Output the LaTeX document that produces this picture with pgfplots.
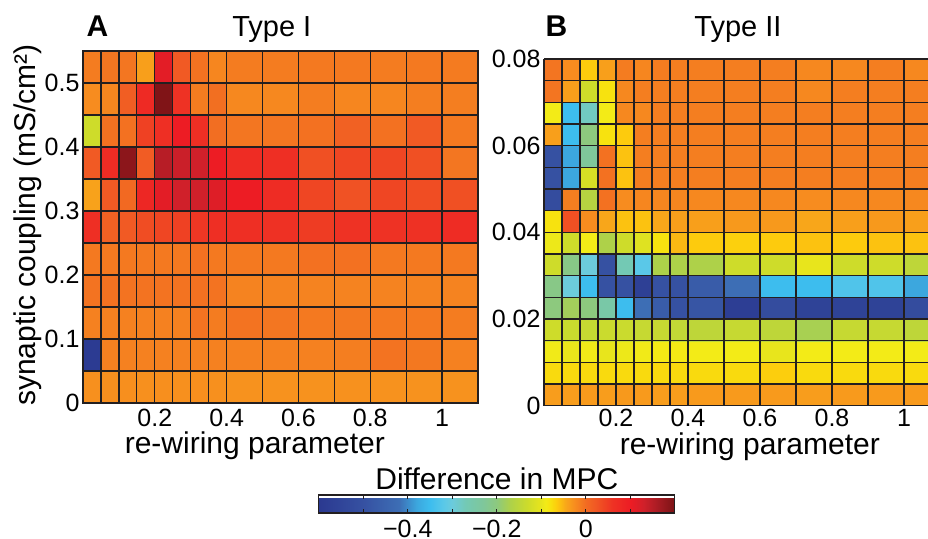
\documentclass[border=0pt]{standalone}
\usepackage{fontspec}
\setmainfont{Liberation Sans}
\usepackage{pgfplots}
\pgfplotsset{compat=1.18}

\definecolor{gridline}{HTML}{231F20}

\pgfplotsset{
  colormap={mpc}{
    rgb255(0pt)=(43,57,144); rgb255(100pt)=(54,81,162); rgb255(180pt)=(61,110,181);
    rgb255(220pt)=(60,167,222); rgb255(250pt)=(61,189,238); rgb255(280pt)=(90,200,232);
    rgb255(300pt)=(108,203,220); rgb255(330pt)=(115,201,180); rgb255(370pt)=(127,199,154);
    rgb255(400pt)=(141,201,126); rgb255(430pt)=(174,209,73); rgb255(470pt)=(206,220,42);
    rgb255(500pt)=(232,229,28); rgb255(510pt)=(243,235,23); rgb255(520pt)=(247,226,15);
    rgb255(535pt)=(253,203,13); rgb255(555pt)=(248,166,26); rgb255(575pt)=(247,140,31);
    rgb255(588pt)=(244,124,32); rgb255(600pt)=(242,107,34); rgb255(620pt)=(241,90,36);
    rgb255(640pt)=(239,70,35); rgb255(660pt)=(238,50,36); rgb255(700pt)=(237,28,36);
    rgb255(730pt)=(208,32,42); rgb255(760pt)=(170,28,36); rgb255(800pt)=(122,19,21)
  },
  heat/.style={
    scale only axis,
    point meta min=-0.6, point meta max=0.2,
    axis on top,
    grid=both,
    major grid style={gridline, line width=1.25pt},
    minor grid style={gridline, line width=1.25pt},
    axis line style={gridline, line width=1.3pt},
    major tick length=0pt, minor tick length=0pt,
    tick label style={font=\fontsize{25}{30}\selectfont},
    xticklabel style={anchor=base, inner sep=0pt},
    /pgf/number format/assume math mode=true,
    label style={font=\fontsize{30}{36}\selectfont, inner sep=0pt},
    every axis title shift=0pt,
    title style={font=\fontsize{29}{34}\selectfont},
    xmin=0,
    xtick={0.2,0.4,0.6,0.8,1},
    minor xtick={0.05,0.1,0.15,0.25,0.3,0.35,0.5,0.7,0.9},
    xlabel={re-wiring parameter},
  },
  cells/.style={surf, shader=flat corner, point meta=explicit, mesh/cols=16},
}

\begin{document}
\begin{tikzpicture}
\useasboundingbox (0,0) rectangle (928pt,-538pt);

% panel A: Type I
\begin{axis}[heat,
  at={(83pt,-403pt)}, anchor=south west, width=395pt, height=352pt,
  xmax=1.1, ymin=0, ymax=0.55,
  ytick={0,0.1,0.2,0.3,0.4,0.5},
  minor ytick={0.05,0.15,0.25,0.35,0.45},
  xticklabel style={yshift=-23.5pt},
  ylabel={synaptic coupling (mS/cm²)},
  ylabel style={at={(-0.1215,0.506)}, anchor=base},
  xlabel style={at={(0.435,-0.143)}, anchor=base},
  title={Type I}, title style={at={(0.478,1.040)}, anchor=base},
  extra description/.code={
    \node[anchor=base west, font=\fontsize{30}{36}\selectfont\bfseries] at (0,1.040) {A};},
  colorbar horizontal,
  colorbar style={
    scale only axis,
    at={(0.597,-0.261)}, anchor=north west,
    width=356pt, height=18pt,
    xtick={-0.4,-0.2,0}, xticklabels={−0.4,−0.2,0},
    minor xtick={-0.5,-0.3,-0.1,0.1},
    tick align=inside,
    major tick length=4pt, minor tick length=4pt,
    tick style={gridline, line width=0.9pt},
    axis line style={gridline, line width=1.3pt},
    xticklabel style={font=\fontsize{25}{30}\selectfont, yshift=-4pt},
    every axis title shift=0pt,
    title={Difference in MPC},
    title style={at={(0.5,1)}, anchor=base, yshift=5pt, font=\fontsize{30}{36}\selectfont},
  },
]
\addplot[cells] coordinates {
(0,0)[-0.028] (0.05,0)[-0.027] (0.1,0)[-0.027] (0.15,0)[-0.028] (0.2,0)[-0.027] (0.25,0)[-0.028] (0.3,0)[-0.027] (0.35,0)[-0.028] (0.4,0)[-0.03] (0.5,0)[-0.03] (0.6,0)[-0.03] (0.7,0)[-0.029] (0.8,0)[-0.03] (0.9,0)[-0.03] (1,0)[-0.03] (1.1,0)[0]
(0,0.05)[-0.59] (0.05,0.05)[-0.016] (0.1,0.05)[-0.016] (0.15,0.05)[-0.016] (0.2,0.05)[-0.016] (0.25,0.05)[-0.016] (0.3,0.05)[-0.016] (0.35,0.05)[-0.016] (0.4,0.05)[-0.016] (0.5,0.05)[-0.016] (0.6,0.05)[-0.016] (0.7,0.05)[-0.014] (0.8,0.05)[-0.006] (0.9,0.05)[-0.009] (1,0.05)[-0.016] (1.1,0.05)[0]
(0,0.1)[-0.016] (0.05,0.1)[-0.016] (0.1,0.1)[-0.016] (0.15,0.1)[-0.016] (0.2,0.1)[-0.016] (0.25,0.1)[-0.016] (0.3,0.1)[-0.006] (0.35,0.1)[-0.012] (0.4,0.1)[-0.006] (0.5,0.1)[-0.008] (0.6,0.1)[-0.01] (0.7,0.1)[-0.009] (0.8,0.1)[-0.01] (0.9,0.1)[-0.01] (1,0.1)[-0.012] (1.1,0.1)[0]
(0,0.15)[-0.006] (0.05,0.15)[-0.005] (0.1,0.15)[-0.006] (0.15,0.15)[-0.006] (0.2,0.15)[-0.006] (0.25,0.15)[-0.006] (0.3,0.15)[-0.004] (0.35,0.15)[-0.006] (0.4,0.15)[-0.018] (0.5,0.15)[-0.018] (0.6,0.15)[-0.018] (0.7,0.15)[-0.018] (0.8,0.15)[-0.018] (0.9,0.15)[-0.018] (1,0.15)[-0.018] (1.1,0.15)[0]
(0,0.2)[-0.01] (0.05,0.2)[-0.01] (0.1,0.2)[-0.01] (0.15,0.2)[-0.01] (0.2,0.2)[-0.01] (0.25,0.2)[-0.01] (0.3,0.2)[-0.004] (0.35,0.2)[-0.01] (0.4,0.2)[-0.01] (0.5,0.2)[-0.01] (0.6,0.2)[-0.004] (0.7,0.2)[-0.004] (0.8,0.2)[-0.01] (0.9,0.2)[-0.01] (1,0.2)[-0.01] (1.1,0.2)[0]
(0,0.25)[0.065] (0.05,0.25)[0.012] (0.1,0.25)[0.02] (0.15,0.25)[0.033] (0.2,0.25)[0.04] (0.25,0.25)[0.045] (0.3,0.25)[0.055] (0.35,0.25)[0.065] (0.4,0.25)[0.065] (0.5,0.25)[0.062] (0.6,0.25)[0.05] (0.7,0.25)[0.06] (0.8,0.25)[0.06] (0.9,0.25)[0.062] (1,0.25)[0.07] (1.1,0.25)[0]
(0,0.3)[-0.042] (0.05,0.3)[0.02] (0.1,0.3)[0.002] (0.15,0.3)[0.08] (0.2,0.3)[0.11] (0.25,0.3)[0.13] (0.3,0.3)[0.13] (0.35,0.3)[0.115] (0.4,0.3)[0.1] (0.5,0.3)[0.07] (0.6,0.3)[0.04] (0.7,0.3)[0.028] (0.8,0.3)[0.04] (0.9,0.3)[0.033] (1,0.3)[0.03] (1.1,0.3)[0]
(0,0.35)[0.02] (0.05,0.35)[0.07] (0.1,0.35)[0.185] (0.15,0.35)[0.018] (0.2,0.35)[0.15] (0.25,0.35)[0.135] (0.3,0.35)[0.13] (0.35,0.35)[0.1] (0.4,0.35)[0.07] (0.5,0.35)[0.065] (0.6,0.35)[0.03] (0.7,0.35)[0.04] (0.8,0.35)[0.04] (0.9,0.35)[0.03] (1,0.35)[-0.008] (1.1,0.35)[0]
(0,0.4)[-0.13] (0.05,0.4)[-0.004] (0.1,0.4)[-0.004] (0.15,0.4)[0.045] (0.2,0.4)[0.065] (0.25,0.4)[0.1] (0.3,0.4)[0.065] (0.35,0.4)[-0.002] (0.4,0.4)[-0.008] (0.5,0.4)[-0.008] (0.6,0.4)[-0.004] (0.7,0.4)[0.012] (0.8,0.4)[-0.004] (0.9,0.4)[0.02] (1,0.4)[-0.01] (1.1,0.4)[0]
(0,0.45)[-0.025] (0.05,0.45)[-0.02] (0.1,0.45)[0.015] (0.15,0.45)[0.075] (0.2,0.45)[0.195] (0.25,0.45)[0.06] (0.3,0.45)[-0.012] (0.35,0.45)[-0.003] (0.4,0.45)[-0.022] (0.5,0.45)[-0.022] (0.6,0.45)[-0.013] (0.7,0.45)[-0.02] (0.8,0.45)[-0.02] (0.9,0.45)[-0.014] (1,0.45)[-0.014] (1.1,0.45)[0]
(0,0.5)[-0.012] (0.05,0.5)[-0.008] (0.1,0.5)[-0.008] (0.15,0.5)[-0.04] (0.2,0.5)[0.11] (0.25,0.5)[0.02] (0.3,0.5)[-0.005] (0.35,0.5)[-0.02] (0.4,0.5)[-0.012] (0.5,0.5)[-0.012] (0.6,0.5)[-0.01] (0.7,0.5)[-0.01] (0.8,0.5)[-0.012] (0.9,0.5)[-0.01] (1,0.5)[-0.011] (1.1,0.5)[0]
(0,0.55)[0] (0.05,0.55)[0] (0.1,0.55)[0] (0.15,0.55)[0] (0.2,0.55)[0] (0.25,0.55)[0] (0.3,0.55)[0] (0.35,0.55)[0] (0.4,0.55)[0] (0.5,0.55)[0] (0.6,0.55)[0] (0.7,0.55)[0] (0.8,0.55)[0] (0.9,0.55)[0] (1,0.55)[0] (1.1,0.55)[0]
};
\end{axis}

% panel B: Type II (right edge cropped in the original)
\begin{axis}[heat,
  at={(544pt,-405.7pt)}, anchor=south west, width=384pt, height=346.7pt,
  xmax=1.0667, ymin=0, ymax=0.08,
  axis x line*=box, axis y line*=left,
  ytick={0,0.02,0.04,0.06,0.08},
  minor ytick={0.005,0.01,0.015,0.025,0.03,0.035,0.045,0.05,0.055,0.065,0.07,0.075},
  scaled y ticks=false,
  yticklabel style={/pgf/number format/fixed, /pgf/number format/precision=2},
  xticklabel style={yshift=-21pt},
  xlabel style={at={(0.536,-0.141)}, anchor=base},
  title={Type II}, title style={at={(0.505,1.0635)}, anchor=base},
  extra description/.code={
    \node[anchor=base west, font=\fontsize{30}{36}\selectfont\bfseries] at (-0.005,1.0635) {B};},
]
\addplot[cells] coordinates {
(0,0)[-0.038] (0.05,0)[-0.038] (0.1,0)[-0.036] (0.15,0)[-0.038] (0.2,0)[-0.035] (0.25,0)[-0.036] (0.3,0)[-0.038] (0.35,0)[-0.038] (0.4,0)[-0.036] (0.5,0)[-0.036] (0.6,0)[-0.036] (0.7,0)[-0.038] (0.8,0)[-0.036] (0.9,0)[-0.036] (1,0)[-0.036] (1.1,0)[0]
(0,0.005)[-0.075] (0.05,0.005)[-0.075] (0.1,0.005)[-0.075] (0.15,0.005)[-0.075] (0.2,0.005)[-0.075] (0.25,0.005)[-0.075] (0.3,0.005)[-0.075] (0.35,0.005)[-0.075] (0.4,0.005)[-0.075] (0.5,0.005)[-0.075] (0.6,0.005)[-0.067] (0.7,0.005)[-0.075] (0.8,0.005)[-0.075] (0.9,0.005)[-0.075] (1,0.005)[-0.075] (1.1,0.005)[0]
(0,0.01)[-0.092] (0.05,0.01)[-0.098] (0.1,0.01)[-0.092] (0.15,0.01)[-0.1] (0.2,0.01)[-0.095] (0.25,0.01)[-0.092] (0.3,0.01)[-0.088] (0.35,0.01)[-0.088] (0.4,0.01)[-0.09] (0.5,0.01)[-0.09] (0.6,0.01)[-0.1] (0.7,0.01)[-0.09] (0.8,0.01)[-0.09] (0.9,0.01)[-0.09] (1,0.01)[-0.09] (1.1,0.01)[0]
(0,0.015)[-0.13] (0.05,0.015)[-0.135] (0.1,0.015)[-0.14] (0.15,0.015)[-0.135] (0.2,0.015)[-0.135] (0.25,0.015)[-0.14] (0.3,0.015)[-0.14] (0.35,0.015)[-0.145] (0.4,0.015)[-0.15] (0.5,0.015)[-0.14] (0.6,0.015)[-0.15] (0.7,0.015)[-0.175] (0.8,0.015)[-0.14] (0.9,0.015)[-0.14] (1,0.015)[-0.15] (1.1,0.015)[0]
(0,0.02)[-0.2] (0.05,0.02)[-0.18] (0.1,0.02)[-0.2] (0.15,0.02)[-0.25] (0.2,0.02)[-0.35] (0.25,0.02)[-0.42] (0.3,0.02)[-0.47] (0.35,0.02)[-0.5] (0.4,0.02)[-0.49] (0.5,0.02)[-0.58] (0.6,0.02)[-0.52] (0.7,0.02)[-0.56] (0.8,0.02)[-0.56] (0.9,0.02)[-0.56] (1,0.02)[-0.52] (1.1,0.02)[0]
(0,0.025)[-0.21] (0.05,0.025)[-0.3] (0.1,0.025)[-0.35] (0.15,0.025)[-0.5] (0.2,0.025)[-0.5] (0.25,0.025)[-0.57] (0.3,0.025)[-0.5] (0.35,0.025)[-0.5] (0.4,0.025)[-0.47] (0.5,0.025)[-0.42] (0.6,0.025)[-0.35] (0.7,0.025)[-0.35] (0.8,0.025)[-0.33] (0.9,0.025)[-0.33] (1,0.025)[-0.38] (1.1,0.025)[0]
(0,0.03)[-0.13] (0.05,0.03)[-0.21] (0.1,0.03)[-0.3] (0.15,0.03)[-0.5] (0.2,0.03)[-0.27] (0.25,0.03)[-0.32] (0.3,0.03)[-0.17] (0.35,0.03)[-0.17] (0.4,0.03)[-0.17] (0.5,0.03)[-0.13] (0.6,0.03)[-0.13] (0.7,0.03)[-0.1] (0.8,0.03)[-0.13] (0.9,0.03)[-0.13] (1,0.03)[-0.15] (1.1,0.03)[0]
(0,0.035)[-0.095] (0.05,0.035)[-0.13] (0.1,0.035)[-0.09] (0.15,0.035)[-0.17] (0.2,0.035)[-0.13] (0.25,0.035)[-0.11] (0.3,0.035)[-0.08] (0.35,0.035)[-0.055] (0.4,0.035)[-0.065] (0.5,0.035)[-0.068] (0.6,0.035)[-0.065] (0.7,0.035)[-0.06] (0.8,0.035)[-0.065] (0.9,0.035)[-0.06] (1,0.035)[-0.06] (1.1,0.035)[0]
(0,0.04)[-0.08] (0.05,0.04)[0.03] (0.1,0.04)[-0.025] (0.15,0.04)[-0.045] (0.2,0.04)[-0.06] (0.25,0.04)[-0.06] (0.3,0.04)[-0.045] (0.35,0.04)[-0.04] (0.4,0.04)[-0.04] (0.5,0.04)[-0.035] (0.6,0.04)[-0.035] (0.7,0.04)[-0.045] (0.8,0.04)[-0.04] (0.9,0.04)[-0.035] (1,0.04)[-0.04] (1.1,0.04)[0]
(0,0.045)[-0.52] (0.05,0.045)[-0.014] (0.1,0.045)[-0.16] (0.15,0.045)[-0.004] (0.2,0.045)[-0.025] (0.25,0.045)[-0.02] (0.3,0.045)[-0.02] (0.35,0.045)[-0.02] (0.4,0.045)[-0.022] (0.5,0.045)[-0.022] (0.6,0.045)[-0.022] (0.7,0.045)[-0.025] (0.8,0.045)[-0.022] (0.9,0.045)[-0.022] (1,0.045)[-0.022] (1.1,0.045)[0]
(0,0.05)[-0.5] (0.05,0.05)[-0.38] (0.1,0.05)[-0.12] (0.15,0.05)[-0.004] (0.2,0.05)[-0.06] (0.25,0.05)[-0.014] (0.3,0.05)[-0.014] (0.35,0.05)[-0.014] (0.4,0.05)[-0.014] (0.5,0.05)[-0.014] (0.6,0.05)[-0.014] (0.7,0.05)[-0.014] (0.8,0.05)[-0.014] (0.9,0.05)[-0.014] (1,0.05)[-0.014] (1.1,0.05)[0]
(0,0.055)[-0.5] (0.05,0.055)[-0.38] (0.1,0.055)[-0.23] (0.15,0.055)[-0.004] (0.2,0.055)[-0.06] (0.25,0.055)[-0.014] (0.3,0.055)[-0.014] (0.35,0.055)[-0.014] (0.4,0.055)[-0.014] (0.5,0.055)[-0.014] (0.6,0.055)[-0.014] (0.7,0.055)[-0.014] (0.8,0.055)[-0.014] (0.9,0.055)[-0.014] (1,0.055)[-0.014] (1.1,0.055)[0]
(0,0.06)[-0.04] (0.05,0.06)[-0.35] (0.1,0.06)[-0.2] (0.15,0.06)[-0.08] (0.2,0.06)[-0.065] (0.25,0.06)[-0.014] (0.3,0.06)[-0.014] (0.35,0.06)[-0.014] (0.4,0.06)[-0.014] (0.5,0.06)[-0.014] (0.6,0.06)[-0.014] (0.7,0.06)[-0.014] (0.8,0.06)[-0.014] (0.9,0.06)[-0.014] (1,0.06)[-0.014] (1.1,0.06)[0]
(0,0.065)[-0.09] (0.05,0.065)[-0.35] (0.1,0.065)[-0.28] (0.15,0.065)[-0.09] (0.2,0.065)[-0.022] (0.25,0.065)[-0.022] (0.3,0.065)[-0.014] (0.35,0.065)[-0.014] (0.4,0.065)[-0.014] (0.5,0.065)[-0.014] (0.6,0.065)[-0.014] (0.7,0.065)[-0.014] (0.8,0.065)[-0.014] (0.9,0.065)[-0.014] (1,0.065)[-0.014] (1.1,0.065)[0]
(0,0.07)[-0.007] (0.05,0.07)[-0.04] (0.1,0.07)[-0.13] (0.15,0.07)[-0.08] (0.2,0.07)[-0.022] (0.25,0.07)[-0.014] (0.3,0.07)[-0.014] (0.35,0.07)[-0.014] (0.4,0.07)[-0.014] (0.5,0.07)[-0.014] (0.6,0.07)[-0.014] (0.7,0.07)[-0.022] (0.8,0.07)[-0.014] (0.9,0.07)[-0.014] (1,0.07)[-0.014] (1.1,0.07)[0]
(0,0.075)[-0.007] (0.05,0.075)[-0.025] (0.1,0.075)[-0.065] (0.15,0.075)[-0.04] (0.2,0.075)[-0.012] (0.25,0.075)[-0.02] (0.3,0.075)[-0.012] (0.35,0.075)[-0.014] (0.4,0.075)[-0.014] (0.5,0.075)[-0.014] (0.6,0.075)[-0.014] (0.7,0.075)[-0.022] (0.8,0.075)[-0.022] (0.9,0.075)[-0.014] (1,0.075)[-0.022] (1.1,0.075)[0]
(0,0.08)[0] (0.05,0.08)[0] (0.1,0.08)[0] (0.15,0.08)[0] (0.2,0.08)[0] (0.25,0.08)[0] (0.3,0.08)[0] (0.35,0.08)[0] (0.4,0.08)[0] (0.5,0.08)[0] (0.6,0.08)[0] (0.7,0.08)[0] (0.8,0.08)[0] (0.9,0.08)[0] (1,0.08)[0] (1.1,0.08)[0]
};
\end{axis}
\end{tikzpicture}
\end{document}
